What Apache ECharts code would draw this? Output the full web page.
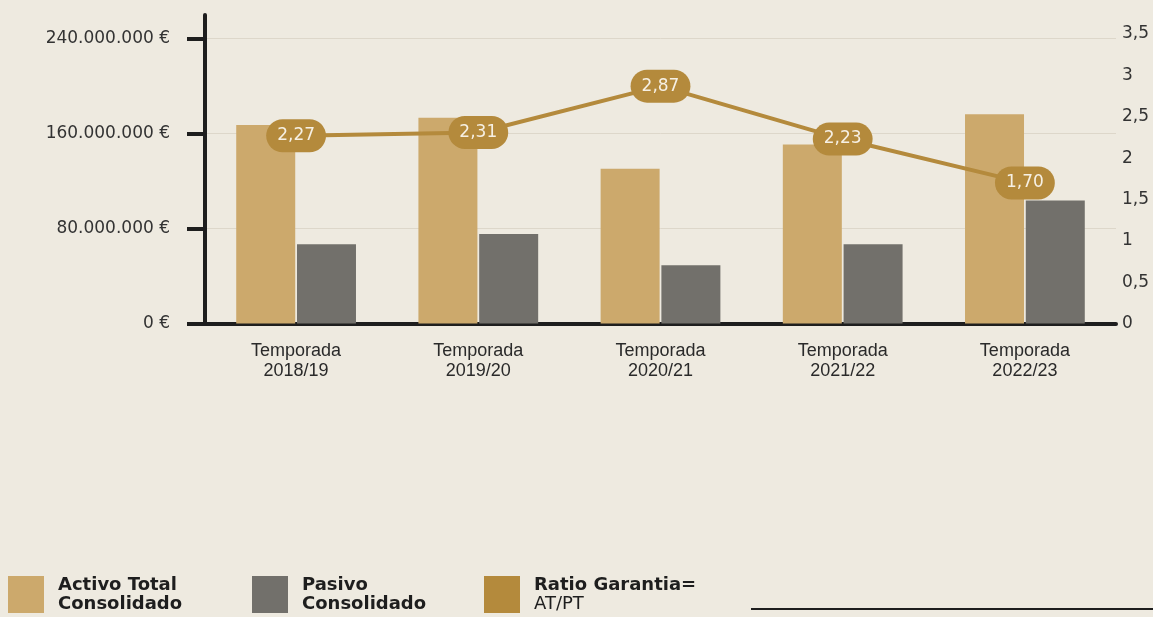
<!DOCTYPE html>
<html>
<head>
<meta charset="utf-8">
<style>
  html, body { margin: 0; padding: 0; background: #eeeae0; }
  #main { width: 1153px; height: 617px; }
</style>
<script src="https://cdn.jsdelivr.net/npm/echarts@6/dist/echarts.min.js"></script>
</head>
<body>
<div id="main"></div>
<script>
// datos
var temporadas = ['Temporada\n2018/19', 'Temporada\n2019/20', 'Temporada\n2020/21', 'Temporada\n2021/22', 'Temporada\n2022/23'];
var activoTotal = [167200000, 173300000, 130400000, 150900000, 176400000];
var pasivo = [66700000, 75400000, 49000000, 66700000, 103700000];
var ratio = [2.27, 2.31, 2.87, 2.23, 1.70];
var ticksEuros = [0, 80000000, 160000000, 240000000];
var nombres = ['Activo Total Consolidado', 'Pasivo Consolidado', 'Ratio Garantia= AT/PT'];

var chartDom = document.getElementById('main');
var myChart = echarts.init(chartDom);
var option;

var fuente = 'DejaVu Sans';

function euros(v) {
  return String(Math.round(v)).replace(/\B(?=(\d{3})+(?!\d))/g, '.') + ' €';
}
function coma(v) {
  return String(v).replace('.', ',');
}

function leyenda(nombre, left, texto) {
  return {
    left: left,
    top: 576,
    padding: 0,
    icon: 'rect',
    itemWidth: 36,
    itemHeight: 37,
    selectedMode: false,
    data: [nombre],
    formatter: function () { return texto; },
    textStyle: {
      padding: [0, 0, 0, 9],
      rich: {
        b: { fontFamily: fuente, fontWeight: 'bold', fontSize: 18, color: '#1e1e1e', lineHeight: 19 },
        r: { fontFamily: fuente, fontSize: 18, color: '#1e1e1e', lineHeight: 19 }
      }
    }
  };
}

option = {
  backgroundColor: '#eeeae0',
  animation: false,
  grid: { left: 205, right: 37, top: 15, bottom: 293.5 },
  legend: [
    leyenda(nombres[0], 8, '{b|Activo Total}\n{b|Consolidado}'),
    leyenda(nombres[1], 252, '{b|Pasivo}\n{b|Consolidado}'),
    leyenda(nombres[2], 484, '{b|Ratio Garantia=}\n{r|AT/PT}')
  ],
  xAxis: {
    type: 'category',
    data: temporadas,
    axisLine: { lineStyle: { color: '#1e1e1e', width: 4 } },
    axisTick: { show: false },
    axisLabel: {
      margin: 18,
      fontFamily: 'Liberation Sans',
      fontSize: 18,
      lineHeight: 20,
      color: '#2a2a2a'
    }
  },
  yAxis: [
    {
      type: 'value',
      min: 0,
      max: 260000000,
      interval: 80000000,
      axisLine: { show: true, lineStyle: { color: '#1e1e1e', width: 4 } },
      axisTick: {
        show: true,
        length: 18,
        customValues: ticksEuros,
        lineStyle: { color: '#1e1e1e', width: 4 }
      },
      axisLabel: {
        margin: 35,
        customValues: ticksEuros,
        fontFamily: fuente,
        fontSize: 17,
        color: '#333',
        formatter: euros
      },
      splitLine: { lineStyle: { color: '#ddd7ca', width: 1 } }
    },
    {
      type: 'value',
      min: 0,
      max: 3.73,
      interval: 0.5,
      position: 'right',
      axisLine: { show: false },
      axisTick: { show: false },
      axisLabel: {
        margin: 6,
        showMaxLabel: false,
        fontFamily: fuente,
        fontSize: 17,
        color: '#333',
        formatter: coma
      },
      splitLine: { show: false }
    }
  ],
  series: [
    {
      name: nombres[0],
      type: 'bar',
      data: activoTotal,
      barWidth: 59,
      barGap: '3%',
      itemStyle: { color: '#cca96c' }
    },
    {
      name: nombres[1],
      type: 'bar',
      data: pasivo,
      barWidth: 59,
      barGap: '3%',
      itemStyle: { color: '#72706b' }
    },
    {
      name: nombres[2],
      type: 'line',
      yAxisIndex: 1,
      data: ratio,
      symbol: 'circle',
      symbolSize: 4,
      lineStyle: { color: '#b48a3c', width: 4 },
      itemStyle: { color: '#b48a3c' },
      label: {
        show: true,
        position: 'inside',
        fontFamily: fuente,
        fontSize: 17,
        color: '#f6f0e4',
        backgroundColor: '#b48a3c',
        borderRadius: 17,
        padding: [8, 11, 8, 11],
        formatter: function (p) { return p.value.toFixed(2).replace('.', ','); }
      },
      z: 5
    }
  ],
  graphic: [
    {
      type: 'line',
      shape: { x1: 751, y1: 609, x2: 1153, y2: 609 },
      style: { stroke: '#1e1e1e', lineWidth: 2 }
    }
  ]
};

if (chartDom && myChart) {
  myChart.setOption(option);
} else {
  console.error('Failed to initialize the chart');
}
</script>
</body>
</html>
